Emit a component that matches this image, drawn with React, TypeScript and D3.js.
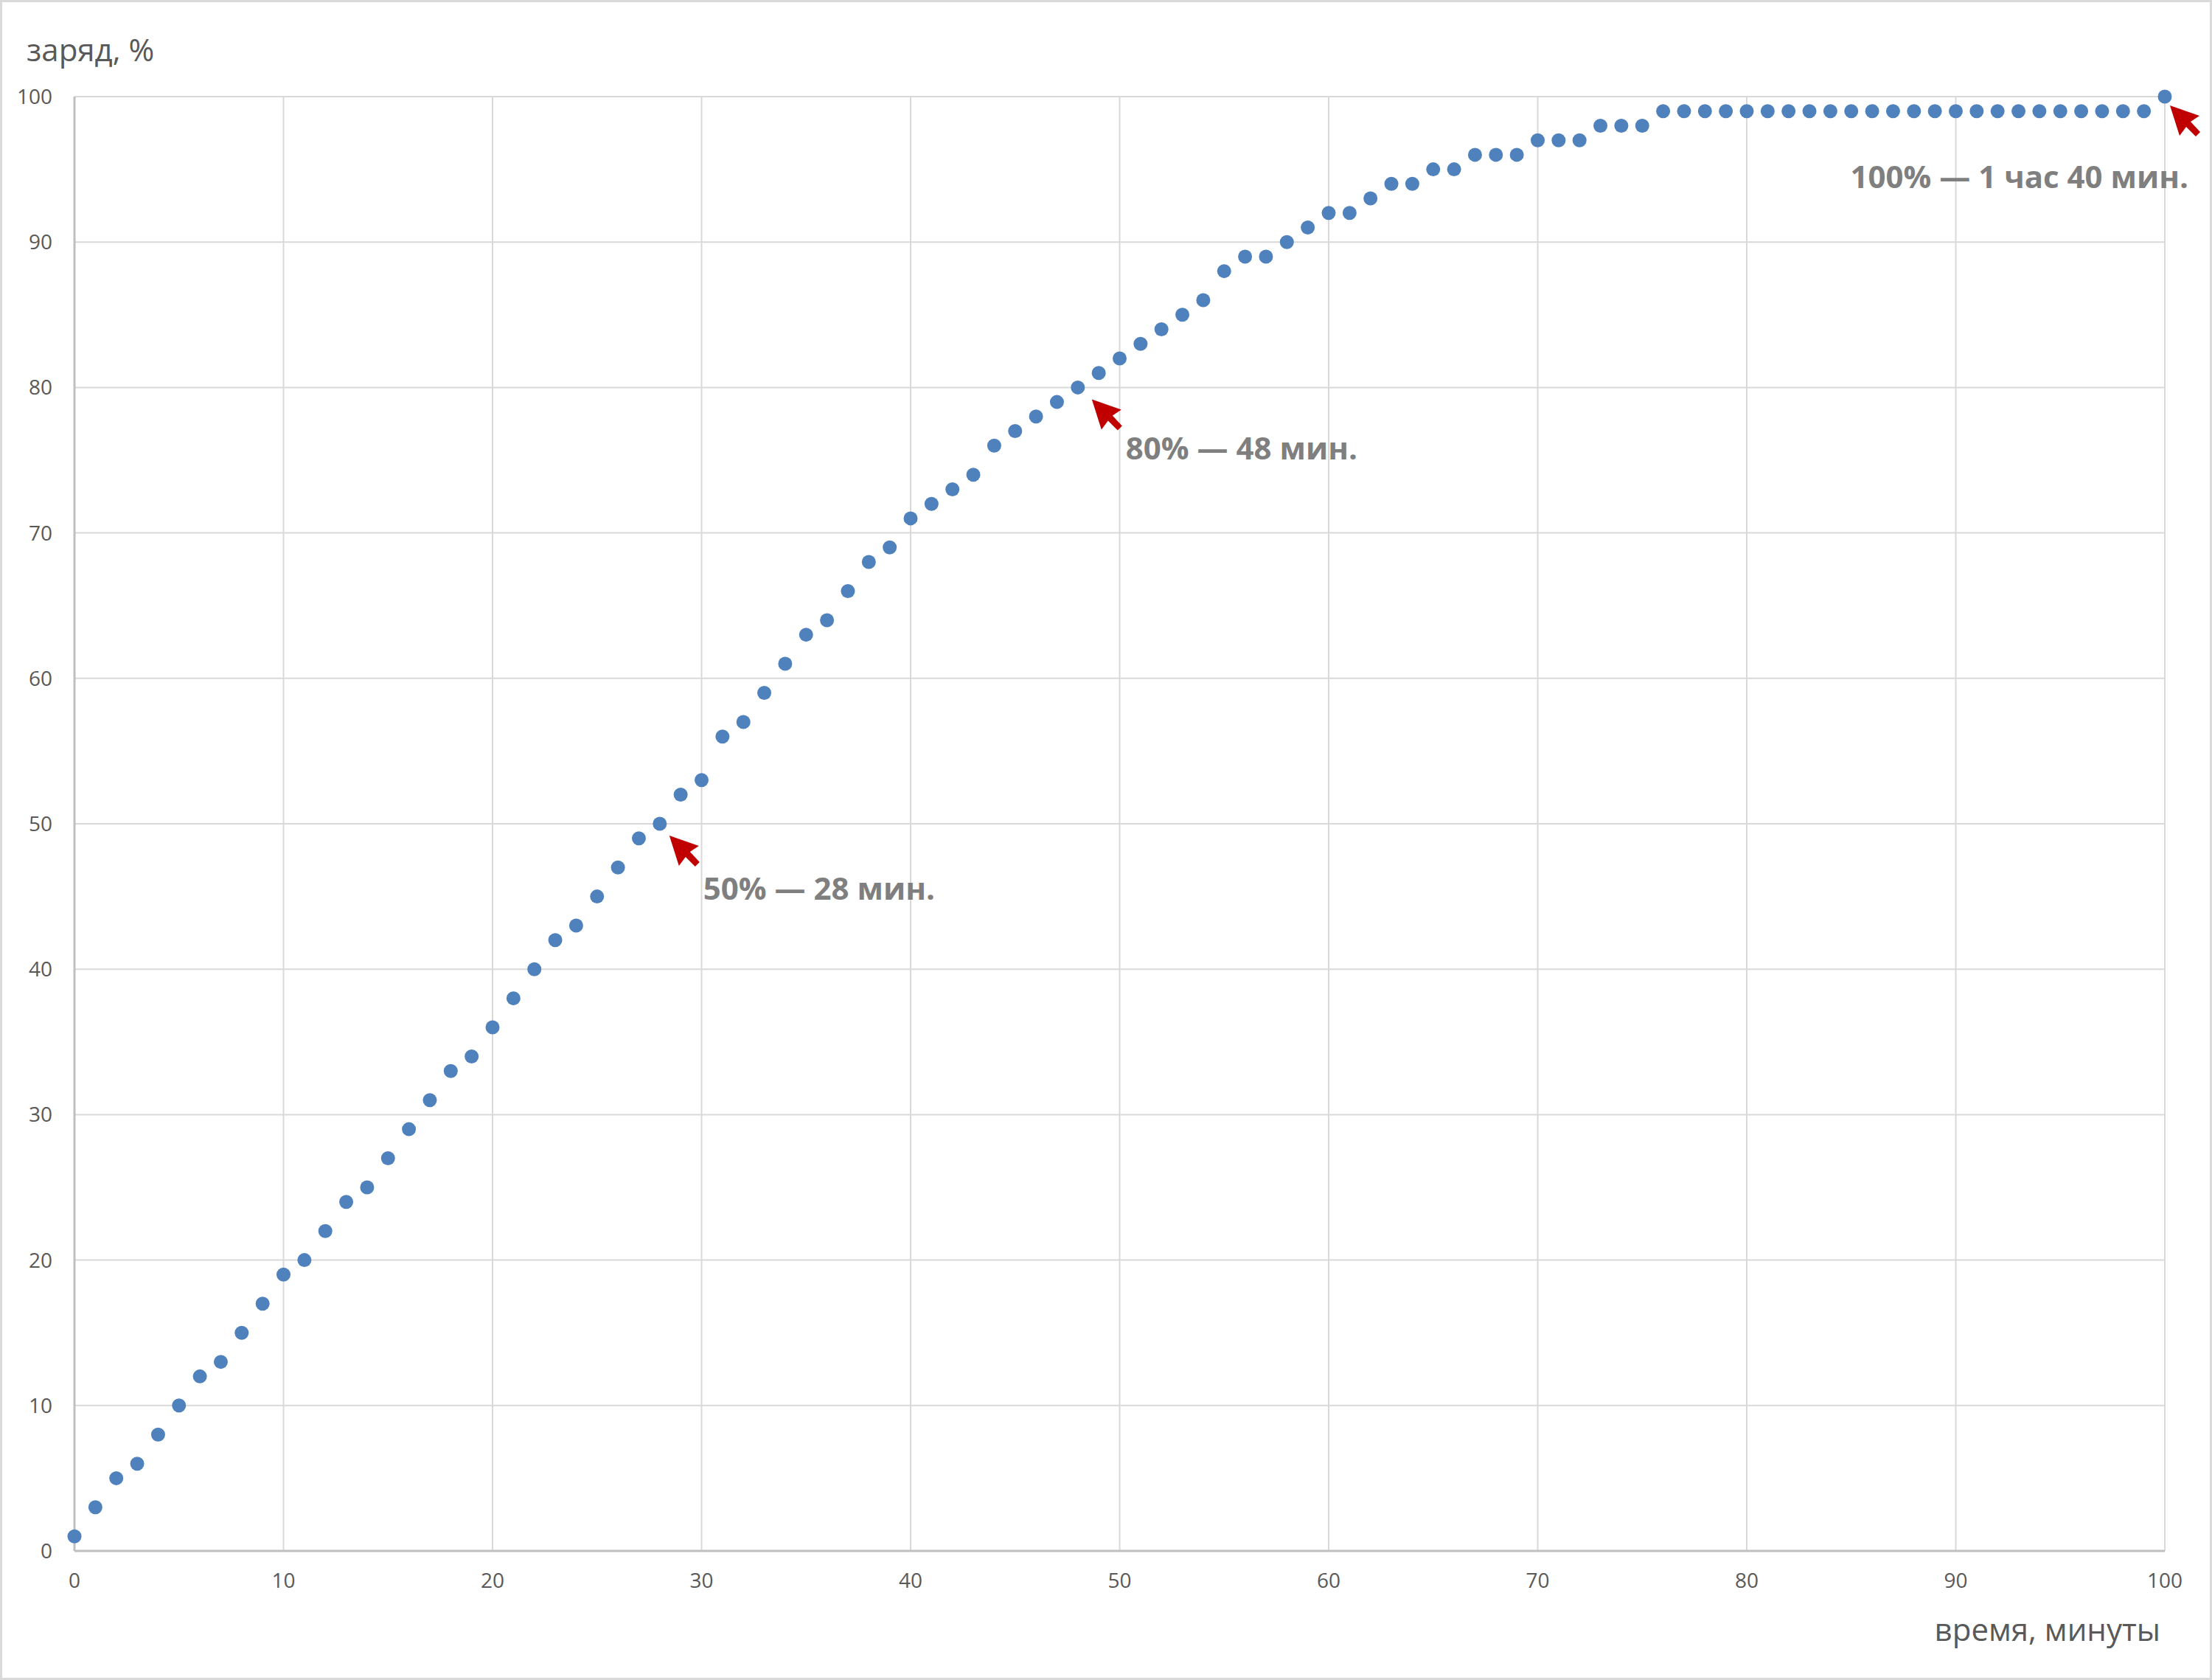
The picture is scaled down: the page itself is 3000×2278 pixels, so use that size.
import React from 'react';
import * as d3 from 'd3';

// minutes since start of charging
const minutes = d3.range(0, 101);

// battery charge, %
const charge = [
    1, 3, 5, 6, 8, 10, 12, 13, 15, 17,
    19, 20, 22, 24, 25, 27, 29, 31, 33, 34,
    36, 38, 40, 42, 43, 45, 47, 49, 50, 52,
    53, 56, 57, 59, 61, 63, 64, 66, 68, 69,
    71, 72, 73, 74, 76, 77, 78, 79, 80, 81,
    82, 83, 84, 85, 86, 88, 89, 89, 90, 91,
    92, 92, 93, 94, 94, 95, 95, 96, 96, 96,
    97, 97, 97, 98, 98, 98, 99, 99, 99, 99,
    99, 99, 99, 99, 99, 99, 99, 99, 99, 99,
    99, 99, 99, 99, 99, 99, 99, 99, 99, 99,
    100,
];

const xTicks = [0, 10, 20, 30, 40, 50, 60, 70, 80, 90, 100];
const yTicks = [0, 10, 20, 30, 40, 50, 60, 70, 80, 90, 100];

const annotationMinutes = [28, 48, 100];
const annotationLabels = ["50% — 28 мин.", "80% — 48 мин.", "100% — 1 час 40 мин."];

const W = 3000;
const H = 2278;
const margin = { left: 101, right: W - 2936, top: 131, bottom: H - 2103 };

const FONT = "'Open Sans', 'Noto Sans', sans-serif";

// layout of the callouts relative to the marked point
const calloutLayout = [
    { arrow: [13, 16], text: [59, 103], anchor: "start" },
    { arrow: [19, 16], text: [65, 98], anchor: "start" },
    { arrow: [7, 12], text: [32, 124], anchor: "end" },
];

// cursor-like arrow, tip at origin, pointing up-left
const arrowPath = "M0,0 L40,14 L28,22 L41,36 L35,42 L22,29 L13,41 Z";

export default function App() {
    const x = d3.scaleLinear().domain([0, 100]).range([margin.left, W - margin.right]);
    const y = d3.scaleLinear().domain([0, 100]).range([H - margin.bottom, margin.top]);

    const points = minutes.map((m, i) => ({ m, v: charge[i] }));

    return (
        <svg width={W} height={H} style={{ position: "absolute", left: 0, top: 0, background: "#fff" }}>
            <rect x={1.5} y={1.5} width={W - 3} height={H - 3} fill="#fff" stroke="#d9d9d9" strokeWidth={3} />

            {/* grid */}
            <g stroke="#d9d9d9" strokeWidth={2}>
                {xTicks.map(t => (
                    <line key={"gx" + t} x1={x(t)} x2={x(t)} y1={y(0)} y2={y(100)} />
                ))}
                {yTicks.map(t => (
                    <line key={"gy" + t} x1={x(0)} x2={x(100)} y1={y(t)} y2={y(t)} />
                ))}
            </g>

            {/* axes */}
            <g stroke="#bfbfbf" strokeWidth={3}>
                <line x1={x(0)} x2={x(100)} y1={y(0)} y2={y(0)} />
                <line x1={x(0)} x2={x(0)} y1={y(0)} y2={y(100)} />
            </g>

            {/* tick labels */}
            <g fontFamily={FONT} fontSize={28} fill="#595959">
                {xTicks.map(t => (
                    <text key={"tx" + t} x={x(t)} y={2153} textAnchor="middle">{t}</text>
                ))}
                {yTicks.map(t => (
                    <text key={"ty" + t} x={71} y={y(t) + 10} textAnchor="end">{t}</text>
                ))}
            </g>

            {/* axis titles */}
            <text x={36} y={83} fontFamily={FONT} fontSize={42} fill="#595959">заряд, %</text>
            <text x={2930} y={2225} fontFamily={FONT} fontSize={42} fill="#595959" textAnchor="end">время, минуты</text>

            {/* data */}
            <g fill="#4f81bd">
                {points.map(p => (
                    <circle key={p.m} cx={x(p.m)} cy={y(p.v)} r={9.5} />
                ))}
            </g>

            {/* callouts */}
            {annotationMinutes.map((m, i) => {
                const px = x(m);
                const py = y(charge[minutes.indexOf(m)]);
                const l = calloutLayout[i];
                return (
                    <g key={"a" + m}>
                        <path d={arrowPath} fill="#c00000" transform={`translate(${px + l.arrow[0]},${py + l.arrow[1]})`} />
                        <text x={px + l.text[0]} y={py + l.text[1]} textAnchor={l.anchor}
                            fontFamily={FONT} fontSize={42} fontWeight="bold" fill="#7f7f7f">
                            {annotationLabels[i]}
                        </text>
                    </g>
                );
            })}
        </svg>
    );
}
